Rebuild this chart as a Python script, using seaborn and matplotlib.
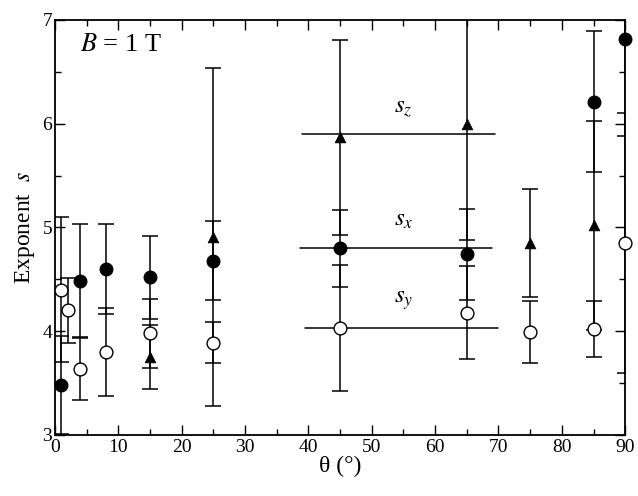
import numpy as np
import pandas as pd
import matplotlib
matplotlib.use("Agg")
import matplotlib.pyplot as plt
from matplotlib.ticker import MultipleLocator
import seaborn as sns

# Data: angle (deg), exponent, symmetric error
theta_x = [1, 4, 8, 15, 25, 45, 65, 85, 90]
s_x = [3.48, 4.48, 4.60, 4.52, 4.68, 4.80, 4.74, 6.21, 6.82]
err_x = [0.47, 0.55, 0.43, 0.40, 0.38, 0.37, 0.44, 0.68, 0.94]

theta_y = [1, 2, 4, 8, 15, 25, 45, 65, 75, 85, 90]
s_y = [4.40, 4.20, 3.64, 3.80, 3.98, 3.89, 4.03, 4.18, 3.99, 4.02, 4.85]
err_y = [0.70, 0.31, 0.30, 0.42, 0.33, 0.20, 0.61, 0.45, 0.30, 0.27, 1.25]

theta_z = [15, 25, 45, 65, 75, 85]
s_z = [3.75, 4.91, 5.87, 6.00, 4.85, 5.02]
err_z = [0.31, 1.63, 0.94, 1.12, 0.52, 1.01]

# Average lines (value, theta start, theta end)
avg_z = (5.90, 39.0, 69.4)
avg_x = (4.80, 38.7, 69.0)
avg_y = (4.03, 39.5, 70.0)

sns.set_theme(style="ticks")
plt.rcParams['font.family'] = ['Liberation Serif', 'DejaVu Serif']
plt.rcParams['mathtext.fontset'] = 'stix'
plt.rcParams['text.color'] = 'black'
plt.rcParams['axes.labelcolor'] = 'black'
plt.rcParams['xtick.color'] = 'black'
plt.rcParams['ytick.color'] = 'black'

fig = plt.figure(figsize=(6.38, 4.96), dpi=100)
ax = fig.add_axes([0.086, 0.123, 0.894, 0.837])

# error bars first
for th, s, e in [(theta_x, s_x, err_x), (theta_y, s_y, err_y), (theta_z, s_z, err_z)]:
    ax.errorbar(th, s, yerr=e, fmt='none', ecolor='black', elinewidth=1.1,
                capsize=6, capthick=1.1, zorder=2)

# average lines
for val, a, b in [avg_z, avg_x, avg_y]:
    ax.plot([a, b], [val, val], color='black', lw=1.1, zorder=2)

df_x = pd.DataFrame({'theta': theta_x, 's': s_x})
df_y = pd.DataFrame({'theta': theta_y, 's': s_y})
df_z = pd.DataFrame({'theta': theta_z, 's': s_z})

sns.scatterplot(data=df_x, x='theta', y='s', ax=ax, marker='o', s=85,
                color='black', edgecolor='black', linewidth=0.8, zorder=4, clip_on=False)
sns.scatterplot(data=df_y, x='theta', y='s', ax=ax, marker='o', s=85,
                color='white', edgecolor='black', linewidth=1.0, zorder=4, clip_on=False)
sns.scatterplot(data=df_z, x='theta', y='s', ax=ax, marker='^', s=60,
                color='black', edgecolor='black', linewidth=0.5, zorder=4, clip_on=False)

ax.set_xlim(0, 90)
ax.set_ylim(3, 7)
ax.xaxis.set_major_locator(MultipleLocator(10))
ax.xaxis.set_minor_locator(MultipleLocator(5))
ax.yaxis.set_major_locator(MultipleLocator(1))
ax.yaxis.set_minor_locator(MultipleLocator(0.5))
ax.tick_params(which='both', direction='in', top=True, right=True, labelsize=14, width=1.0)
ax.tick_params(which='major', length=7)
ax.tick_params(which='minor', length=4)
ax.tick_params(axis='x', pad=3)
ax.tick_params(axis='y', pad=2)
for sp in ax.spines.values():
    sp.set_linewidth(1.3)
    sp.set_color('black')

ax.set_xlabel('θ (°)', fontsize=17, labelpad=0)
ax.set_ylabel('Exponent  $s$', fontsize=17, labelpad=4)

ax.text(4.0, 6.7, '$B$ = 1 T', fontsize=19)
ax.text(55, 6.1, '$s_z$', fontsize=18, ha='center')
ax.text(55, 5.02, '$s_x$', fontsize=18, ha='center')
ax.text(55, 4.27, '$s_y$', fontsize=18, ha='center')

plt.savefig('out.png', dpi=100)
plt.close()
